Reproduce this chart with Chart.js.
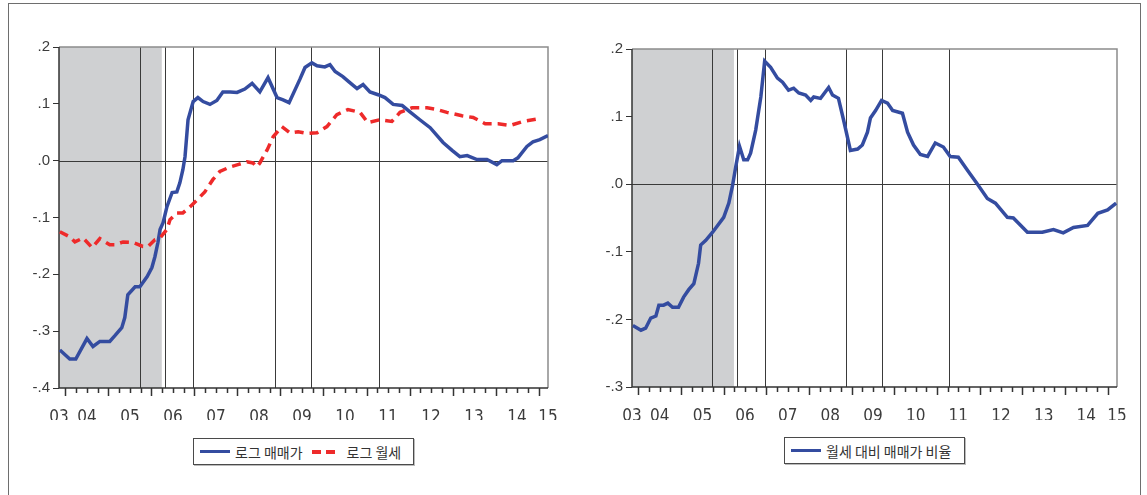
<!DOCTYPE html>
<html>
<head>
<meta charset="utf-8">
<script src="https://cdn.jsdelivr.net/npm/chart.js@4.4.1/dist/chart.umd.min.js"></script>
<style>
  body { margin: 0; background: #fff; width: 1147px; height: 495px; overflow: hidden; position: relative; }
  #frame { position: absolute; left: 8px; top: 3px; width: 1131px; height: 500px;
           border: 1.5px solid #6e6e6e; border-bottom: none; }
  canvas { position: absolute; top: 0; }
  .legend { position: absolute; height: 25px; border: 1px solid #4a4a4a; box-shadow: 1px 1px 0 #bbb;
            display: flex; align-items: center; font-family: "Noto Sans CJK KR", sans-serif;
            font-size: 14px; color: #333; white-space: nowrap; }
  .solid { display: inline-block; width: 30px; height: 3px; background: #344ca0; margin: 0 5px 0 6px; }
  .dash { display: inline-block; width: 9px; height: 4px; background: #ee2a2a; margin-right: 5px; }
</style>
</head>
<body>
<div id="frame"></div>
<canvas id="levelChart" width="573" height="420" style="left:0"></canvas>
<canvas id="ratioChart" width="574" height="420" style="left:573px"></canvas>

<div class="legend" style="left:193px;top:438px;width:219px">
  <span class="solid"></span>로그 매매가
  <span class="dash" style="margin-left:9px"></span><span class="dash" style="margin-right:12px"></span>로그 월세
</div>
<div class="legend" style="left:784px;top:437px;width:179px">
  <span class="solid"></span>월세 대비 매매가 비율
</div>

<script>
// x values are decimal years (monthly observations)
const X_MIN = 2003.85;
const X_MAX = 2015.22;
const yearLabels = ["03", "04", "05", "06", "07", "08", "09", "10", "11", "12", "13", "14", "15"];

const priceDates = [2003.87, 2004.10, 2004.24, 2004.50, 2004.64, 2004.80, 2005.03, 2005.15, 2005.31, 2005.38,
  2005.45, 2005.62, 2005.73, 2005.90, 2006.01, 2006.08, 2006.15, 2006.20, 2006.27, 2006.36,
  2006.48, 2006.59, 2006.66, 2006.73, 2006.78, 2006.85, 2006.97, 2007.08, 2007.20, 2007.36,
  2007.52, 2007.66, 2007.83, 2007.99, 2008.17, 2008.34, 2008.52, 2008.71, 2008.92, 2009.06,
  2009.20, 2009.45, 2009.57, 2009.73, 2009.85, 2010.03, 2010.15, 2010.27, 2010.45, 2010.62,
  2010.78, 2010.92, 2011.08, 2011.27, 2011.43, 2011.62, 2011.83, 2012.01, 2012.24, 2012.48,
  2012.78, 2012.99, 2013.17, 2013.34, 2013.57, 2013.80, 2014.03, 2014.15, 2014.41, 2014.52,
  2014.73, 2014.87, 2015.03, 2015.22];
const priceLog = [-0.333, -0.349, -0.349, -0.313, -0.327, -0.318, -0.318, -0.308, -0.294, -0.276,
  -0.236, -0.222, -0.222, -0.204, -0.188, -0.169, -0.144, -0.121, -0.109, -0.081,
  -0.056, -0.055, -0.039, -0.016, 0.007, 0.072, 0.104, 0.111, 0.104, 0.099,
  0.106, 0.121, 0.121, 0.120, 0.126, 0.136, 0.121, 0.146, 0.111, 0.107,
  0.102, 0.143, 0.164, 0.172, 0.167, 0.165, 0.169, 0.157, 0.148, 0.137,
  0.127, 0.134, 0.121, 0.116, 0.111, 0.099, 0.097, 0.086, 0.072, 0.058,
  0.032, 0.018, 0.007, 0.009, 0.002, 0.002, -0.007, 0.000, 0.000, 0.005,
  0.025, 0.033, 0.037, 0.044];

const rentDates = [2003.87, 2004.10, 2004.22, 2004.41, 2004.62, 2004.80, 2005.03, 2005.15, 2005.34, 2005.57,
  2005.80, 2005.92, 2006.08, 2006.20, 2006.36, 2006.43, 2006.59, 2006.73, 2006.90, 2007.06,
  2007.24, 2007.43, 2007.59, 2007.83, 2008.01, 2008.22, 2008.36, 2008.45, 2008.52, 2008.69,
  2008.83, 2009.03, 2009.22, 2009.41, 2009.62, 2009.85, 2010.08, 2010.31, 2010.57, 2010.85,
  2011.03, 2011.31, 2011.59, 2011.78, 2012.06, 2012.41, 2012.64, 2012.87, 2013.22, 2013.48,
  2013.76, 2014.06, 2014.34, 2014.64, 2015.03];
const rentLog = [-0.125, -0.134, -0.143, -0.136, -0.153, -0.137, -0.148, -0.148, -0.143, -0.144,
  -0.151, -0.151, -0.139, -0.136, -0.121, -0.104, -0.092, -0.092, -0.081, -0.069,
  -0.055, -0.033, -0.019, -0.011, -0.007, -0.002, -0.004, -0.011, -0.004, 0.019,
  0.042, 0.060, 0.049, 0.051, 0.048, 0.049, 0.060, 0.081, 0.090, 0.085,
  0.067, 0.072, 0.069, 0.085, 0.093, 0.093, 0.090, 0.085, 0.079, 0.076,
  0.065, 0.065, 0.062, 0.069, 0.074];

const ratioDates = [2003.87, 2004.06, 2004.17, 2004.29, 2004.41, 2004.48, 2004.59, 2004.69, 2004.80, 2004.94,
  2005.06, 2005.18, 2005.30, 2005.41, 2005.46, 2005.58, 2005.74, 2006.00, 2006.12, 2006.21,
  2006.28, 2006.37, 2006.47, 2006.56, 2006.63, 2006.75, 2006.87, 2006.96, 2007.10, 2007.26,
  2007.38, 2007.52, 2007.64, 2007.76, 2007.92, 2008.04, 2008.11, 2008.27, 2008.46, 2008.55,
  2008.69, 2008.81, 2008.97, 2009.14, 2009.25, 2009.37, 2009.44, 2009.56, 2009.70, 2009.84,
  2009.96, 2010.19, 2010.31, 2010.45, 2010.61, 2010.78, 2010.96, 2011.15, 2011.31, 2011.50,
  2011.71, 2011.95, 2012.18, 2012.37, 2012.65, 2012.79, 2013.12, 2013.26, 2013.47, 2013.73,
  2013.96, 2014.20, 2014.53, 2014.77, 2015.00, 2015.20];
const ratioValues = [-0.209, -0.216, -0.213, -0.198, -0.195, -0.179, -0.179, -0.176, -0.182, -0.182,
  -0.167, -0.156, -0.147, -0.117, -0.090, -0.083, -0.071, -0.049, -0.028, -0.001,
  0.025, 0.056, 0.036, 0.036, 0.046, 0.080, 0.129, 0.182, 0.173, 0.157,
  0.151, 0.139, 0.142, 0.135, 0.132, 0.124, 0.129, 0.127, 0.143, 0.132,
  0.127, 0.095, 0.050, 0.052, 0.058, 0.077, 0.098, 0.109, 0.124, 0.120,
  0.109, 0.105, 0.077, 0.058, 0.044, 0.041, 0.061, 0.055, 0.041, 0.040,
  0.021, 0.000, -0.021, -0.028, -0.049, -0.050, -0.071, -0.071, -0.071, -0.067,
  -0.072, -0.064, -0.061, -0.043, -0.038, -0.028];

// vertical marker lines and the shaded period
const eventDates = [2005.73, 2006.31, 2006.97, 2008.87, 2009.71, 2011.29];
const shadeEnd = 2006.24;

const BLUE = "#344ca0";
const RED = "#ee2a2a";

function pts(xs, ys) {
  return xs.map((x, i) => ({ x: x, y: ys[i] }));
}

function fmtY(v) {
  const s = (Math.round(v * 10) / 10).toFixed(1);
  return s.replace(/^(-?)0\./, "$1.");
}

// shading, marker lines, zero line, frame and quarterly x ticks
const decor = {
  id: "decor",
  beforeDatasetsDraw(chart, args, opts) {
    const { ctx, chartArea: a, scales: { x, y } } = chart;
    ctx.save();
    ctx.fillStyle = "#cfd0d2";
    const s2 = x.getPixelForValue(opts.shadeTo);
    ctx.fillRect(a.left, a.top, s2 - a.left, a.bottom - a.top);

    ctx.strokeStyle = "#3a3a3a";
    ctx.lineWidth = 1;
    ctx.beginPath();
    opts.events.forEach(d => {
      const px = Math.round(x.getPixelForValue(d)) + 0.5;
      ctx.moveTo(px, a.top);
      ctx.lineTo(px, a.bottom);
    });
    const y0 = Math.round(y.getPixelForValue(0)) + 0.5;
    ctx.moveTo(a.left, y0);
    ctx.lineTo(a.right, y0);
    ctx.stroke();

    // top and right edges are lighter
    ctx.strokeStyle = "#8c8c8c";
    ctx.lineWidth = 1.5;
    ctx.beginPath();
    ctx.moveTo(a.left, a.top);
    ctx.lineTo(a.right, a.top);
    ctx.lineTo(a.right, a.bottom);
    ctx.stroke();

    ctx.strokeStyle = "#333";
    ctx.beginPath();
    ctx.moveTo(a.left, a.top);
    ctx.lineTo(a.left, a.bottom);
    ctx.lineTo(a.right, a.bottom);
    for (let k = 0; k <= 44; k++) {
      const px = Math.round(x.getPixelForValue(2004 + k / 4)) + 0.5;
      ctx.moveTo(px, a.bottom);
      ctx.lineTo(px, a.bottom + (k % 4 === 0 ? 8 : 5));
    }
    ctx.stroke();
    ctx.restore();
  }
};

function makeOptions(yMin, yMax, pad, xHeight) {
  return {
    responsive: false,
    animation: false,
    devicePixelRatio: 1,
    layout: { padding: pad },
    plugins: {
      legend: { display: false },
      tooltip: { enabled: false },
      decor: { shadeTo: shadeEnd, events: eventDates }
    },
    elements: { point: { radius: 0 }, line: { tension: 0 } },
    scales: {
      x: {
        type: "linear",
        min: X_MIN,
        max: X_MAX,
        grid: { display: false },
        border: { display: false },
        afterBuildTicks: s => {
          s.ticks = yearLabels.map((l, i) =>
            ({ value: i === 0 ? X_MIN : i === yearLabels.length - 1 ? X_MAX : 2003.5 + i }));
        },
        afterFit: s => { s.height = xHeight; },
        ticks: {
          autoSkip: false,
          maxRotation: 0,
          padding: 11,
          color: "#3c3c3c",
          font: { family: "'Liberation Sans Narrow', 'Arial Narrow', 'DejaVu Sans Condensed', sans-serif", size: 17 },
          callback: (v, i) => yearLabels[i]
        }
      },
      y: {
        min: yMin,
        max: yMax,
        grid: { display: true, drawOnChartArea: false, tickLength: 6, color: "#333" },
        border: { display: false },
        afterFit: s => { s.width = 59; },
        ticks: {
          stepSize: 0.1,
          padding: 3,
          color: "#3c3c3c",
          font: { family: "'Liberation Sans', Arial, sans-serif", size: 15 },
          callback: v => fmtY(v)
        }
      }
    }
  };
}

new Chart(document.getElementById("levelChart").getContext("2d"), {
  type: "line",
  data: {
    datasets: [
      {
        label: "로그 월세",
        data: pts(rentDates, rentLog),
        borderColor: RED,
        borderWidth: 3.5,
        borderDash: [9, 6]
      },
      {
        label: "로그 매매가",
        data: pts(priceDates, priceLog),
        borderColor: BLUE,
        borderWidth: 3.5
      }
    ]
  },
  options: makeOptions(-0.4, 0.2, { top: 47, right: 25, left: 0, bottom: 0 }, 32),
  plugins: [decor]
});

new Chart(document.getElementById("ratioChart").getContext("2d"), {
  type: "line",
  data: {
    datasets: [
      {
        label: "월세 대비 매매가 비율",
        data: pts(ratioDates, ratioValues),
        borderColor: BLUE,
        borderWidth: 3.5
      }
    ]
  },
  options: makeOptions(-0.3, 0.2, { top: 49, right: 30, left: 0, bottom: 0 }, 33),
  plugins: [decor]
});
</script>
</body>
</html>
